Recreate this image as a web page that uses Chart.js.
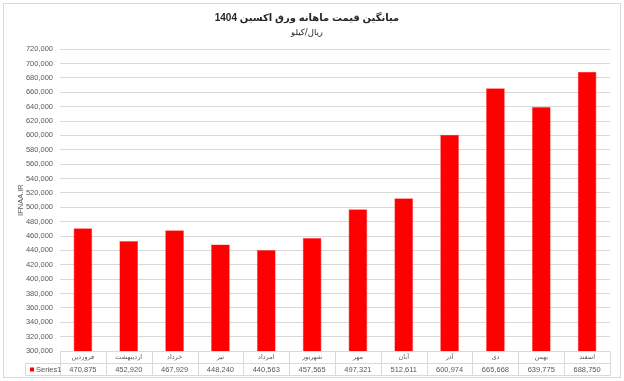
<!DOCTYPE html>
<html>
<head>
<meta charset="utf-8">
<script src="https://cdn.jsdelivr.net/npm/chart.js@4"></script>
<style>
  html, body { margin: 0; padding: 0; background: #fff; }
  #wrap { width: 624px; height: 381px; }
</style>
</head>
<body>
<div id="wrap"><canvas id="chart" width="624" height="381"></canvas></div>
<script>
const TITLE = "میانگین قیمت ماهانه ورق اکسین 1404";
const SUBTITLE = "ریال/کیلو";
const WATERMARK = "IFNAA.IR";
const SERIES_NAME = "Series1";
const MONTHS = ["فروردین", "اردیبهشت", "خرداد", "تیر", "امرداد", "شهریور", "مهر", "آبان", "آذر", "دی", "بهمن", "اسفند"];
const PRICES = [470875, 452920, 467929, 448240, 440563, 457565, 497321, 512611, 600974, 665668, 639775, 688750];
const Y_MIN = 300000;
const Y_MAX = 720000;
const Y_STEP = 20000;

const TEXT = "#595959";
const GRID = "#d9d9d9";
const BAR = "#ff0000";
const NUM_FONT = "'Liberation Sans', 'DejaVu Sans', sans-serif";

const fmt = (v) => v.toLocaleString("en-US");

// chart frame like the excel chart border
const framePlugin = {
  id: "frame",
  beforeDraw(chart) {
    const ctx = chart.ctx;
    ctx.save();
    ctx.fillStyle = "#fff";
    ctx.fillRect(0, 0, chart.width, chart.height);
    ctx.strokeStyle = GRID;
    ctx.lineWidth = 1;
    ctx.strokeRect(3.5, 3.5, chart.width - 7, chart.height - 7);
    ctx.restore();
  },
};

// data table under the plot (category row + value row with legend key)
const tablePlugin = {
  id: "dataTable",
  afterDraw(chart) {
    const { ctx, chartArea } = chart;
    const x = chart.scales.x;
    const step = x.getPixelForValue(1) - x.getPixelForValue(0);
    const left = chartArea.left, right = chartArea.right;
    const top = Math.round(chartArea.bottom) + 0.5;
    const rowH = 12;
    const legendLeft = 25.5;

    ctx.save();
    ctx.strokeStyle = GRID;
    ctx.lineWidth = 1;
    ctx.beginPath();
    ctx.moveTo(left, top); ctx.lineTo(right, top);
    ctx.moveTo(legendLeft, top + rowH); ctx.lineTo(right, top + rowH);
    ctx.moveTo(legendLeft, top + rowH * 2); ctx.lineTo(right, top + rowH * 2);
    for (let i = 0; i <= MONTHS.length; i++) {
      const px = Math.round(x.getPixelForValue(i) - step / 2) + 0.5;
      ctx.moveTo(px, top); ctx.lineTo(px, top + rowH * 2);
    }
    ctx.moveTo(legendLeft, top + rowH); ctx.lineTo(legendLeft, top + rowH * 2);
    ctx.stroke();

    ctx.fillStyle = TEXT;
    ctx.textAlign = "center";
    ctx.textBaseline = "middle";
    MONTHS.forEach((m, i) => {
      const cx = x.getPixelForValue(i);
      ctx.font = "6.5px 'DejaVu Sans', sans-serif";
      ctx.fillText(m, cx, top + rowH / 2);
      ctx.font = "7.5px " + NUM_FONT;
      ctx.fillText(fmt(PRICES[i]), cx, top + rowH * 1.5 + 0.5);
    });

    ctx.fillStyle = BAR;
    ctx.fillRect(30, top + rowH * 1.5 - 2, 4, 4);
    ctx.fillStyle = TEXT;
    ctx.textAlign = "left";
    ctx.font = "7.5px " + NUM_FONT;
    ctx.fillText(SERIES_NAME, 36, top + rowH * 1.5 + 0.5);
    ctx.restore();
  },
};

new Chart(document.getElementById("chart"), {
  type: "bar",
  data: {
    labels: MONTHS,
    datasets: [{
      label: SERIES_NAME,
      data: PRICES,
      backgroundColor: BAR,
      borderColor: "#ff5050",
      borderWidth: 0.6,
      barPercentage: 0.41,
      categoryPercentage: 1.0,
    }],
  },
  options: {
    responsive: false,
    animation: false,
    devicePixelRatio: 1,
    layout: { padding: { left: 4, right: 14, top: 4, bottom: 6 } },
    plugins: {
      legend: { display: false },
      tooltip: { enabled: false },
      title: {
        display: true,
        text: "\u202B" + TITLE + "\u202C",
        color: "#262626",
        font: { family: NUM_FONT, size: 10, weight: "bold" },
        padding: { top: 8, bottom: 0 },
      },
      subtitle: {
        display: true,
        text: SUBTITLE,
        color: "#262626",
        font: { family: "'DejaVu Sans', sans-serif", size: 8.5 },
        padding: { top: 4, bottom: 11 },
      },
    },
    scales: {
      x: {
        ticks: { display: false },
        grid: { display: false },
        border: { display: false },
        afterFit(scale) { scale.height = 24; },
      },
      y: {
        min: Y_MIN,
        max: Y_MAX,
        ticks: {
          stepSize: Y_STEP,
          color: TEXT,
          padding: 7,
          font: { family: NUM_FONT, size: 7.5 },
          callback: (v) => fmt(v),
        },
        grid: { color: GRID, drawTicks: false },
        border: { display: false },
        title: {
          display: true,
          text: WATERMARK,
          color: TEXT,
          font: { family: NUM_FONT, size: 7.5 },
          padding: { top: 12, bottom: 0 },
        },
        afterFit(scale) { scale.width = 56; },
      },
    },
  },
  plugins: [framePlugin, tablePlugin],
});
</script>
</body>
</html>
